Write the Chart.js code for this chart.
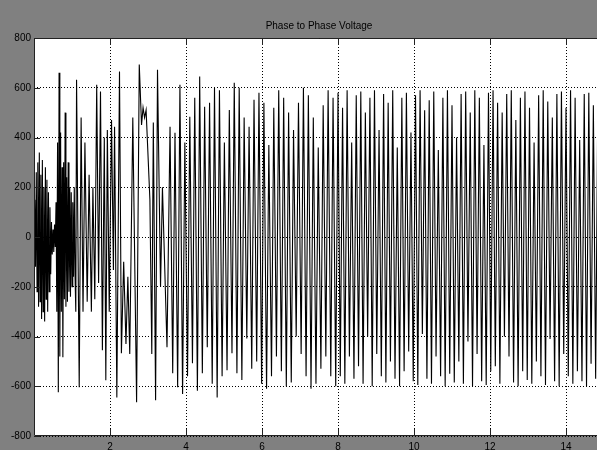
<!DOCTYPE html>
<html>
<head>
<meta charset="utf-8">
<title>Phase to Phase Voltage</title>
<script src="https://cdn.jsdelivr.net/npm/chart.js@4.4.1/dist/chart.umd.min.js"></script>
<style>
  html, body { margin: 0; padding: 0; background: #808080; overflow: hidden; }
  #wrap { width: 604px; height: 450px; }
</style>
</head>
<body>
<div id="wrap"><canvas id="myChart" width="604" height="450"></canvas></div>
<script>
const chartTitle = "Phase to Phase Voltage";
const xTicks = [2, 4, 6, 8, 10, 12, 14];
const yTicks = [-800, -600, -400, -200, 0, 200, 400, 600, 800];

// start-up transient (s, V)
const tStart = [0.00, 0.02, 0.04, 0.06, 0.08, 0.10, 0.12, 0.14, 0.16, 0.18,
  0.20, 0.22, 0.24, 0.26, 0.28, 0.30, 0.32, 0.34, 0.36, 0.38,
  0.40, 0.42, 0.44, 0.46, 0.48, 0.50, 0.52, 0.54, 0.56, 0.58,
  0.60, 0.62, 0.64, 0.66, 0.68, 0.70, 0.72, 0.74, 0.76, 0.78,
  0.80, 0.82, 0.84, 0.86, 0.88, 0.90, 0.92, 0.94, 0.96, 0.98,
  1.00, 1.02, 1.04, 1.06, 1.08, 1.10,
  1.12, 1.19, 1.24, 1.29, 1.34, 1.40, 1.45, 1.51, 1.55, 1.60,
  1.65, 1.70, 1.75, 1.80, 1.85, 1.89, 1.93, 1.98, 2.04, 2.09,
  2.12, 2.18, 2.25, 2.30, 2.36, 2.42, 2.47, 2.52, 2.60, 2.70,
  2.77, 2.83, 2.87, 2.91, 2.95, 3.05, 3.10, 3.14, 3.20, 3.25,
  3.33, 3.38, 3.50];
const vStart = [0, 150, -120, 260, -220, 300, -280, 340, -260, 250,
  -330, 310, -300, 200, -340, 280, -250, 230, -300, 180,
  -220, 120, -150, 60, -70, 30, -60, 50, -40, 140,
  -300, 380, -624, 660, -480, 420, -300, 280, -483, 300,
  -250, 500, -280, 240, -260, 300, -220, 200, -240, 180,
  -200, 140, -160, 200, -150, -300,
  632, -604, 480, -300, 380, -260, 250, -300, 200, -250,
  612, -185, 585, -455, 400, -576, 430, -300, 470, -133,
  443, -645, 665, -467, -100, -430, -160, -470, 480, -664,
  693, 450, 520, 480, 510, 150, -470, 460, -656, 672,
  -200, 200, -443];

// building up (peaks and troughs)
const tMid = [3.58, 3.65, 3.71, 3.78, 3.84, 3.91, 3.97, 4.04, 4.10, 4.17,
  4.23, 4.30, 4.36, 4.43, 4.49, 4.56, 4.62, 4.69, 4.75, 4.82,
  4.88, 4.95, 5.01, 5.08, 5.14, 5.21, 5.27, 5.34, 5.40, 5.47,
  5.53, 5.60, 5.66, 5.73, 5.79, 5.86, 5.92, 5.99, 6.05, 6.12,
  6.18, 6.25, 6.31, 6.38, 6.44, 6.51, 6.57, 6.64, 6.70, 6.77,
  6.83, 6.90, 6.96, 7.03, 7.09, 7.16, 7.22, 7.29, 7.35, 7.42,
  7.48, 7.55, 7.61, 7.68, 7.74, 7.81, 7.87, 7.94];
const vMid = [443, -548, 419, -604, 612, -631, 380, -560, 483, -508,
  560, -618, 645, -548, 524, -443, 540, -590, 600, -645,
  590, -560, 380, -536, 511, -467, 620, -548, 600, -575,
  480, -408, 443, -530, 552, -500, 580, -590, 540, -610,
  370, -560, 520, -480, 590, -540, 560, -600, 500, -585,
  430, -400, 540, -470, 600, -560, 570, -610, 480, -590,
  360, -530, 530, -480, 590, -560, 560, -600];

// steady running
const tEnd = [8.00, 8.06, 8.12, 8.18, 8.24, 8.30, 8.36, 8.42, 8.48, 8.54,
  8.60, 8.66, 8.72, 8.78, 8.84, 8.90, 8.96, 9.02, 9.08, 9.14,
  9.20, 9.26, 9.32, 9.38, 9.44, 9.50, 9.56, 9.62, 9.68, 9.74,
  9.80, 9.86, 9.92, 9.98, 10.04, 10.10, 10.16, 10.22, 10.28, 10.34,
  10.40, 10.46, 10.52, 10.58, 10.64, 10.70, 10.76, 10.82, 10.88, 10.94,
  11.00, 11.06, 11.12, 11.18, 11.24, 11.30, 11.36, 11.42, 11.48, 11.54,
  11.60, 11.66, 11.72, 11.78, 11.84, 11.90, 11.96, 12.02, 12.08, 12.14,
  12.20, 12.26, 12.32, 12.38, 12.44, 12.50, 12.56, 12.62, 12.68, 12.74,
  12.80, 12.86, 12.92, 12.98, 13.04, 13.10, 13.16, 13.22, 13.28, 13.34,
  13.40, 13.46, 13.52, 13.58, 13.64, 13.70, 13.76, 13.82, 13.88, 13.94,
  14.00, 14.06, 14.12, 14.18, 14.24, 14.30, 14.36, 14.42, 14.48, 14.54,
  14.60, 14.66, 14.72, 14.78, 14.84, 14.90, 14.96, 15.02];
const vEnd = [580, -560, 520, -590, 590, -480, 380, -570, 570, -520,
  585, -590, 500, -400, 560, -600, 590, -470, 430, -560,
  575, -585, 540, -500, 590, -570, 360, -600, 560, -540,
  580, -460, 420, -580, 570, -595, 590, -390, 510, -570,
  550, -590, 585, -480, 350, -560, 560, -600, 590, -550,
  530, -585, 400, -500, 575, -590, 585, -420, 500, -600,
  590, -470, 560, -580, 370, -595, 580, -540, 590, -520,
  540, -590, 500, -400, 575, -480, 590, -585, 470, -600,
  560, -540, 585, -575, 520, -590, 380, -500, 570, -560,
  590, -595, 545, -410, 480, -580, 575, -600, 585, -470,
  520, -560, 590, -590, 560, -540, 390, -580, 575, -600,
  580, -510, 530, -570, 590, -590, 550, -540];

const times = [...tStart, ...tMid, ...tEnd];
const volts = [...vStart, ...vMid, ...vEnd];
const points = times.map((t, i) => ({ x: t, y: volts[i] }));

const labelFont = { family: "'Liberation Sans', Arial, sans-serif", size: 10 };

// white axes box, frame and inward tick marks like a scope window
const scopeFrame = {
  id: "scopeFrame",
  beforeDraw(chart) {
    const { ctx, chartArea: a } = chart;
    ctx.save();
    ctx.fillStyle = "#ffffff";
    ctx.fillRect(a.left, a.top, a.right - a.left, a.bottom - a.top);
    ctx.restore();
  },
  afterDraw(chart) {
    const { ctx, chartArea: a, scales } = chart;
    ctx.save();
    ctx.strokeStyle = "#222";
    ctx.lineWidth = 1;
    ctx.beginPath();
    ctx.moveTo(a.right, a.top + 0.5);
    ctx.lineTo(a.left + 0.5, a.top + 0.5);
    ctx.lineTo(a.left + 0.5, a.bottom - 0.5);
    ctx.lineTo(a.right, a.bottom - 0.5);
    xTicks.forEach((v) => {
      const x = Math.round(scales.x.getPixelForValue(v)) + 0.5;
      ctx.moveTo(x, a.top);
      ctx.lineTo(x, a.top + 7);
      ctx.moveTo(x, a.bottom);
      ctx.lineTo(x, a.bottom - 7);
    });
    yTicks.forEach((v) => {
      const y = Math.round(scales.y.getPixelForValue(v)) + 0.5;
      ctx.moveTo(a.left, y);
      ctx.lineTo(a.left + 6, y);
    });
    ctx.stroke();
    ctx.restore();
  },
};

new Chart(document.getElementById("myChart"), {
  type: "line",
  data: {
    datasets: [
      {
        label: chartTitle,
        data: points,
        borderColor: "#000",
        borderWidth: 1.1,
        pointRadius: 0,
        fill: false,
        tension: 0,
      },
    ],
  },
  options: {
    responsive: false,
    animation: false,
    layout: { padding: 0 },
    plugins: {
      legend: { display: false },
      tooltip: { enabled: false },
      title: {
        display: true,
        text: chartTitle,
        fullSize: false,
        color: "#000",
        font: { family: "'Liberation Sans', Arial, sans-serif", size: 10, weight: "normal", lineHeight: 1.2 },
        padding: { top: 20, bottom: 6 },
      },
    },
    scales: {
      x: {
        type: "linear",
        min: 0,
        max: 15,
        afterBuildTicks: (s) => { s.ticks = xTicks.map((v) => ({ value: v })); },
        afterFit: (s) => { s.height = 14; },
        ticks: { color: "#000", font: labelFont, padding: 5, maxRotation: 0, autoSkip: false },
        grid: { color: "#000", lineWidth: 1, drawTicks: false },
        border: { display: false, dash: [1, 2] },
      },
      y: {
        type: "linear",
        min: -800,
        max: 800,
        afterBuildTicks: (s) => { s.ticks = yTicks.map((v) => ({ value: v })); },
        afterFit: (s) => { s.width = 34; },
        ticks: { color: "#000", font: labelFont, padding: 3 },
        grid: { color: "#000", lineWidth: 1, drawTicks: false },
        border: { display: false, dash: [1, 2] },
      },
    },
  },
  plugins: [scopeFrame],
});
</script>
</body>
</html>
